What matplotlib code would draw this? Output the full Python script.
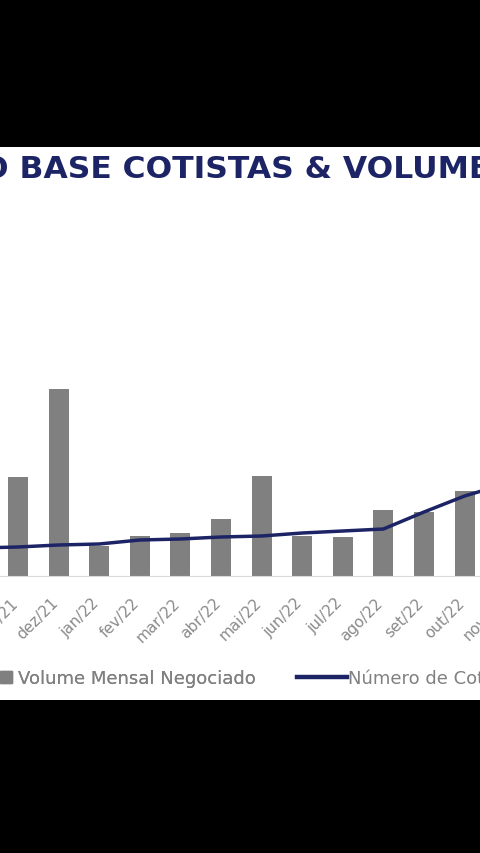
import matplotlib
matplotlib.use("Agg")
import matplotlib.pyplot as plt
import matplotlib.transforms as mtransforms
import numpy as np
from matplotlib.patches import Patch
from matplotlib.lines import Line2D

# monthly data (the crop shows only nov/21 .. out/22 fully)
months = ["out/21", "nov/21", "dez/21", "jan/22", "fev/22", "mar/22", "abr/22", "mai/22",
          "jun/22", "jul/22", "ago/22", "set/22", "out/22", "nov/22"]
volume = [np.nan, 9.9, 18.7, 3.0, 4.0, 4.3, 5.7, 10.0, 4.0, 3.9, 6.6, 6.4, 8.5, np.nan]
cotistas = [2.8, 2.9, 3.1, 3.2, 3.6, 3.7, 3.9, 4.0, 4.3, 4.5, 4.7, 6.4, 8.0, 9.2]

NAVY = "#1c2466"
GRAY = "#808080"
W, H = 480, 854

fig = plt.figure(figsize=(4.8, 8.54), dpi=100, facecolor="black")

# white slide area between the black bars
bg = fig.add_axes([0, (H - 701) / H, 1, (701 - 148) / H])
bg.set_facecolor("white")
bg.set_xticks([])
bg.set_yticks([])
for s in bg.spines.values():
    s.set_visible(False)

# axes runs past the right edge so the cropped nov/22 label is still drawn
step = 40.6
ax_w = 540
ax = fig.add_axes([0, (H - 577) / H, ax_w / W, 277 / H])
ax.patch.set_alpha(0)
x = np.arange(len(months))
ax.bar(x, volume, width=0.49, color=GRAY, zorder=2)
ax.set_ylim(0, 27.7)
ax.set_yticks([])
for s in ["top", "left", "right"]:
    ax.spines[s].set_visible(False)
ax.spines["bottom"].set_color("#d9d9d9")
ax.set_xticks(x)
ax.set_xticklabels(months, rotation=45, ha="right", rotation_mode="anchor",
                   fontsize=11, color="#8a8a8a")
ax.tick_params(axis="x", length=0, pad=13.5)
shift = mtransforms.ScaledTranslation(-0.08, 0, fig.dpi_scale_trans)
for lbl in ax.get_xticklabels():
    lbl.set_transform(lbl.get_transform() + shift)

ax2 = ax.twinx()
ax2.plot(x, cotistas, color=NAVY, lw=2.5, solid_capstyle="round")
ax2.set_ylim(0, 27.7)
ax2.set_yticks([])
for s in ax2.spines.values():
    s.set_visible(False)

x0 = 1 - 18 / step
ax.set_xlim(x0, x0 + ax_w / step)

fig.text(-18 / W, (H - 178) / H, "O BASE COTISTAS & VOLUME NEGOCIADO",
         family="DejaVu Sans", fontweight="bold", fontsize=22.6,
         color=NAVY, ha="left", va="baseline")

ly = (H - 679.5) / H
leg1 = fig.legend(handles=[Patch(color=GRAY)], labels=["Volume Mensal Negociado"],
                  loc="center left", bbox_to_anchor=(0, ly), frameon=False,
                  fontsize=13, labelcolor="#808080", handlelength=0.66,
                  handleheight=0.66, handletextpad=0.33, borderpad=0, borderaxespad=0)
fig.add_artist(leg1)
fig.legend(handles=[Line2D([], [], color=NAVY, lw=3.2)], labels=["Número de Cotistas"],
           loc="center left", bbox_to_anchor=(297 / W, ly), frameon=False,
           fontsize=13, labelcolor="#808080", handlelength=2.75,
           handletextpad=0.05, borderpad=0, borderaxespad=0)

fig.savefig("out.png", dpi=100, facecolor="black")
